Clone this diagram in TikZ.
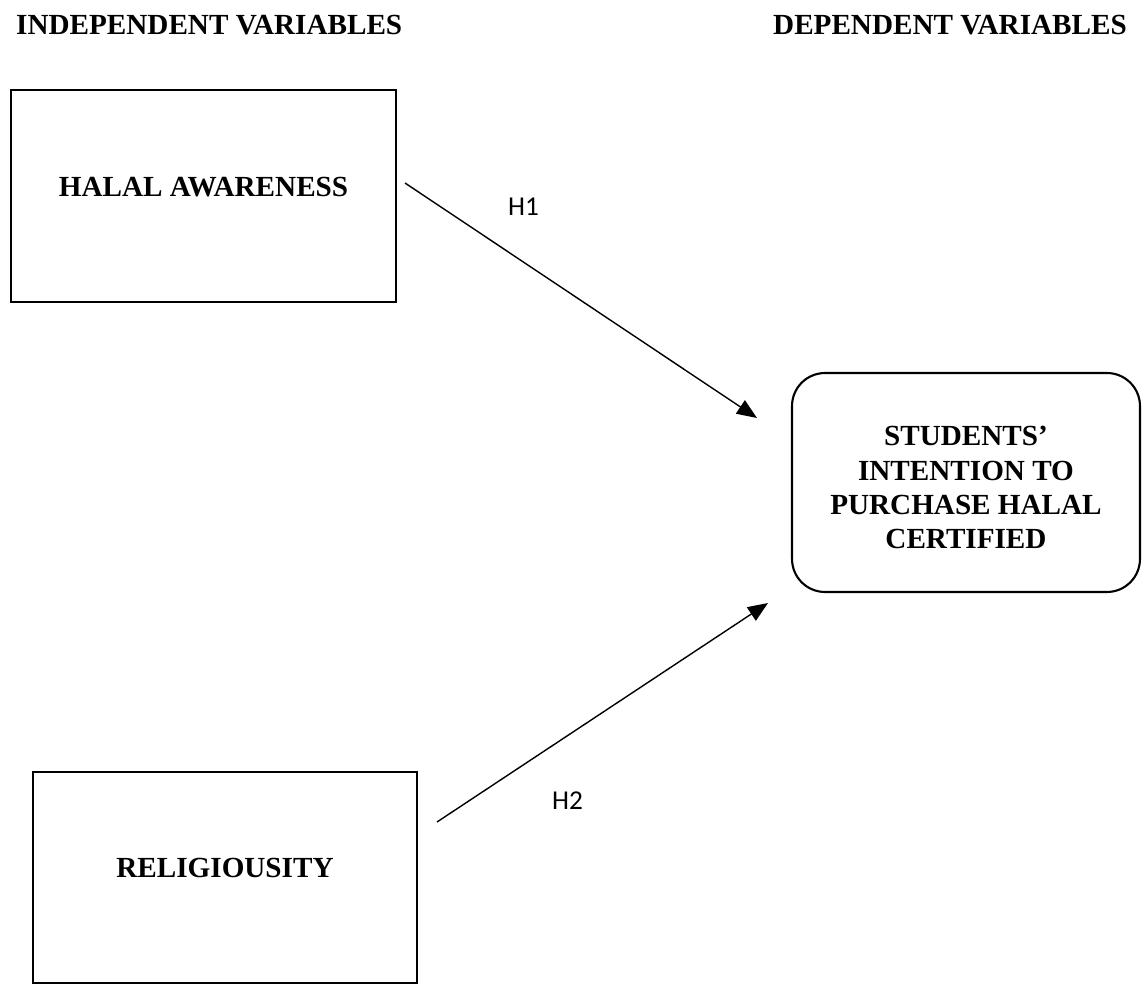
\documentclass[tikz,border=0pt]{standalone}
\usepackage{fontspec}
\setmainfont{Liberation Serif}
\newfontfamily\hypfont{Carlito}
\usetikzlibrary{arrows.meta}
\begin{document}
\begin{tikzpicture}[x=0.02cm,y=-0.02cm,
  varbox/.style={draw,line width=0.8pt,inner sep=0pt,text height=0.4cm,text depth=0.4cm,
    font=\fontsize{16.6}{19.5}\selectfont\bfseries},
  depbox/.style={draw,line width=1.2pt,rounded corners=0.66cm,inner sep=0pt,align=center,
    minimum width=6.96cm,minimum height=4.38cm,font=\fontsize{16.6}{19.5}\selectfont\bfseries},
  head/.style={font=\fontsize{16.6}{19.5}\selectfont\bfseries},
  hyp/.style={font=\fontsize{15.5}{18}\selectfont\hypfont,anchor=base},
  path/.style={line width=0.8pt,-{Triangle[length=0.4cm,width=0.32cm]}}]
\useasboundingbox (0,0) rectangle (1144,990);

\node[head,anchor=base west] (indep) at (10,35) {INDEPENDENT VARIABLES};
\node[head,anchor=base east] (dep) at (1133,35) {DEPENDENT VARIABLES};

\node[varbox,minimum width=7.7cm,minimum height=4.24cm] (aware) at (203.5,196) {HALAL AWARENESS};

\node[varbox,minimum width=7.68cm,minimum height=4.22cm] (relig) at (225,877.5) {RELIGIOUSITY};

\node[depbox] (intent) at (966,482.5) {\rule{0pt}{17pt}STUDENTS'\\INTENTION TO\\PURCHASE HALAL\\CERTIFIED};

\coordinate (h1from) at (405,183);
\coordinate (h1to) at (757,418);
\coordinate (h2from) at (437,822);
\coordinate (h2to) at (768,603);

\draw[path] (h1from) -- (h1to);
\draw[path] (h2from) -- (h2to);

\node[hyp] (h1) at (523.5,215) {H1};
\node[hyp] (h2) at (567.5,809) {H2};

\end{tikzpicture}
\end{document}
